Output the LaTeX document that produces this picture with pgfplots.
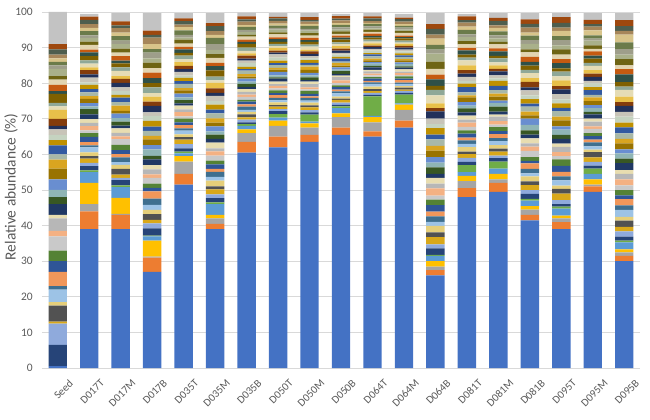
\documentclass[border=0pt]{standalone}
\usepackage{fontspec}
\setmainfont{Carlito}
\usepackage{pgfplots}
\usepackage{pgfplotstable}
\pgfplotsset{compat=1.18}
\definecolor{c1}{HTML}{4472C4}
\definecolor{c2}{HTML}{ED7D31}
\definecolor{c3}{HTML}{A5A5A5}
\definecolor{c4}{HTML}{FFC000}
\definecolor{c5}{HTML}{5B9BD5}
\definecolor{c6}{HTML}{70AD47}
\definecolor{c7}{HTML}{264478}
\definecolor{c8}{HTML}{8FAADC}
\definecolor{c9}{HTML}{D9A81A}
\definecolor{c10}{HTML}{525252}
\definecolor{c11}{HTML}{E6CF7A}
\definecolor{c12}{HTML}{9DC3E6}
\definecolor{c13}{HTML}{3F6F8F}
\definecolor{c14}{HTML}{F1975A}
\definecolor{c15}{HTML}{2F5597}
\definecolor{c16}{HTML}{548235}
\definecolor{c17}{HTML}{C9C9C9}
\definecolor{c18}{HTML}{F4B183}
\definecolor{c19}{HTML}{B7B7B7}
\definecolor{c20}{HTML}{E8DDB0}
\definecolor{c21}{HTML}{203864}
\definecolor{c22}{HTML}{385723}
\definecolor{c23}{HTML}{8FB5B5}
\definecolor{c24}{HTML}{698ED0}
\definecolor{c25}{HTML}{997300}
\definecolor{c26}{HTML}{D9A520}
\definecolor{c27}{HTML}{A8B8A8}
\definecolor{c28}{HTML}{335AA1}
\definecolor{c29}{HTML}{BF9000}
\definecolor{c30}{HTML}{C5D3C0}
\definecolor{c31}{HTML}{C8C4B8}
\definecolor{c32}{HTML}{22315A}
\definecolor{c33}{HTML}{843C0C}
\definecolor{c34}{HTML}{E8C04A}
\definecolor{c35}{HTML}{E5DCB5}
\definecolor{c36}{HTML}{8FA898}
\definecolor{c37}{HTML}{7F6000}
\definecolor{c38}{HTML}{2F5048}
\definecolor{c39}{HTML}{C55A11}
\definecolor{c40}{HTML}{E2D4B0}
\definecolor{c41}{HTML}{6E6414}
\definecolor{c42}{HTML}{A9B08A}
\definecolor{c43}{HTML}{9E9E8A}
\definecolor{c44}{HTML}{6B7B4A}
\definecolor{c45}{HTML}{D8C48A}
\definecolor{c46}{HTML}{A6865A}
\definecolor{c47}{HTML}{4E5E4E}
\definecolor{c48}{HTML}{9E480E}
\definecolor{c49}{HTML}{C3C3C3}
\definecolor{txt}{HTML}{595959}
\definecolor{gridc}{HTML}{D9D9D9}
\pgfplotstableread{
X s1 s2 s3 s4 s5 s6 s7 s8 s9 s10 s11 s12 s13 s14 s15 s16 s17 s18 s19 s20 s21 s22 s23 s24 s25 s26 s27 s28 s29 s30 s31 s32 s33 s34 s35 s36 s37 s38 s39 s40 s41 s42 s43 s44 s45 s46 s47 s48 s49
0 0.5 0 0 0 0 0 6.0 6.0 0.5 4.5 1.0 3.5 1.0 4.0 3.0 3.0 4.0 1.5 3.5 1.0 3.0 2.0 2.0 3.0 3.0 2.5 1.5 2.5 1.5 1.5 1.5 1.0 2.0 2.5 1.0 1.0 2.5 0.8 1.7 1.5 1.0 2.0 1.0 1.0 1.0 1.0 1.5 1.5 9.0
1 39 5 2 6 3 0.5 1.2 0.9 1.2 0.75 1.05 1.35 0.6 0.9 1.5 1.05 0.75 1.2 0.9 1.05 1.35 1.5 0.75 0.9 1.2 0.75 1.05 0.9 1.2 0.75 1.35 0.9 1.2 0.75 1.05 0.9 1.2 1.05 0.75 1.35 0.9 1.05 0.75 1.2 0.9 1.05 1.2 0.9 0.8
2 39 4 0.3 4.5 3 0.5 1.44 0.64 0.96 1.6 1.12 0.8 1.28 0.96 1.12 1.44 1.6 0.8 0.96 1.28 0.8 1.12 0.96 1.28 0.8 1.44 0.96 1.28 0.8 1.12 0.96 1.28 1.12 0.8 1.44 0.96 1.12 0.8 1.28 0.96 1.12 1.28 0.96 1.28 0.96 1.28 0.8 1.12 2.32
3 27 4 0.3 4.5 1.2 0.2 2.0 1.4 1.0 1.6 1.2 1.4 1.8 2.0 1.0 1.2 1.6 1.0 1.4 1.2 1.6 1.0 1.8 1.2 1.6 1.0 1.4 1.2 1.6 1.4 1.0 1.8 1.2 1.4 1.0 1.6 1.2 1.4 1.6 1.2 1.6 1.2 1.6 1.0 1.4 1.8 0.8 1.2 4.9
4 51.5 3 3.5 1.5 0.8 0.5 0.91 1.17 1.3 0.65 0.78 1.04 0.65 0.91 0.78 1.04 0.65 1.17 0.78 1.04 0.65 0.91 0.78 1.04 0.91 0.65 1.17 0.78 0.91 0.65 1.04 0.78 0.91 1.04 0.78 1.04 0.78 1.04 0.65 0.91 1.17 0.52 0.78 1.3 0.91 0.65 1.04 0.78 1.46
5 39 1.5 1.5 1 3 0.5 1.225 1.05 1.4 0.875 1.575 1.05 1.4 0.875 1.225 1.05 1.4 1.225 0.875 1.575 1.05 1.225 0.875 1.4 1.05 1.225 1.4 1.05 1.4 1.05 1.4 0.875 1.225 1.575 0.7 1.05 1.75 1.225 0.875 1.4 1.05 1.225 1.575 1.75 0.875 1.05 1.4 0.875 2.8
6 60.5 3 2.5 1 1 0.5 0.525 0.735 0.63 0.84 0.735 0.525 0.945 0.63 0.735 0.525 0.84 0.63 0.735 0.84 0.63 0.84 0.63 0.84 0.525 0.735 0.945 0.42 0.63 1.05 0.735 0.525 0.84 0.63 0.735 0.945 1.05 0.525 0.63 0.84 0.525 0.735 0.63 0.84 0.525 0.945 0.63 0.84 1.06
7 62 3 3 1.5 0.8 1 0.855 0.57 0.665 0.475 0.76 0.57 0.665 0.76 0.57 0.76 0.57 0.76 0.475 0.665 0.855 0.38 0.57 0.95 0.665 0.475 0.76 0.57 0.665 0.855 0.95 0.475 0.57 0.76 0.475 0.665 0.57 0.76 0.475 0.855 0.57 0.76 0.475 0.665 0.57 0.76 0.665 0.475 1.04
8 63.5 2 2 1.2 0.5 2 0.57 0.665 0.76 0.57 0.76 0.57 0.76 0.475 0.665 0.855 0.38 0.57 0.95 0.665 0.475 0.76 0.57 0.665 0.855 0.95 0.475 0.57 0.76 0.475 0.665 0.57 0.76 0.475 0.855 0.57 0.76 0.475 0.665 0.57 0.76 0.665 0.475 0.855 0.57 0.665 0.475 0.76 1.14
9 65.5 2 3 1 1.5 0.5 0.44 0.616 0.792 0.352 0.528 0.88 0.616 0.44 0.704 0.528 0.616 0.792 0.88 0.44 0.528 0.704 0.44 0.616 0.528 0.704 0.44 0.792 0.528 0.704 0.44 0.616 0.528 0.704 0.616 0.44 0.792 0.528 0.616 0.44 0.704 0.528 0.616 0.704 0.528 0.704 0.528 0.704 0.66
10 65 1.5 2.5 1.5 0.3 5.5 0.39 0.624 0.468 0.546 0.702 0.78 0.39 0.468 0.624 0.39 0.546 0.468 0.624 0.39 0.702 0.468 0.624 0.39 0.546 0.468 0.624 0.546 0.39 0.702 0.468 0.546 0.39 0.624 0.468 0.546 0.624 0.468 0.624 0.468 0.624 0.39 0.546 0.702 0.312 0.468 0.78 0.546 0.94
11 67.5 2 3 1.5 0.3 2.5 0.45 0.6 0.375 0.525 0.45 0.6 0.375 0.675 0.45 0.6 0.375 0.525 0.45 0.6 0.525 0.375 0.675 0.45 0.525 0.375 0.6 0.45 0.525 0.6 0.45 0.6 0.45 0.6 0.375 0.525 0.675 0.3 0.45 0.75 0.525 0.375 0.6 0.45 0.525 0.675 0.75 0.375 1.1
12 26 1.5 1 1.5 1.5 0.3 1.8 1.125 2.025 1.35 1.8 1.125 1.575 1.35 1.8 1.575 1.125 2.025 1.35 1.575 1.125 1.8 1.35 1.575 1.8 1.35 1.8 1.35 1.8 1.125 1.575 2.025 0.9 1.35 2.25 1.575 1.125 1.8 1.35 1.575 2.025 2.25 1.125 1.35 1.8 1.125 1.575 1.35 3.1
13 48 2.5 2 1.5 1 2 0.87 1.16 1.015 0.725 1.305 0.87 1.015 0.725 1.16 0.87 1.015 1.16 0.87 1.16 0.87 1.16 0.725 1.015 1.305 0.58 0.87 1.45 1.015 0.725 1.16 0.87 1.015 1.305 1.45 0.725 0.87 1.16 0.725 1.015 0.87 1.16 0.725 1.305 0.87 1.16 0.725 1.015 0.74
14 49.5 2.5 1 1.5 1.5 2 0.98 0.7 1.12 0.84 0.98 1.12 0.84 1.12 0.84 1.12 0.7 0.98 1.26 0.56 0.84 1.4 0.98 0.7 1.12 0.84 0.98 1.26 1.4 0.7 0.84 1.12 0.7 0.98 0.84 1.12 0.7 1.26 0.84 1.12 0.7 0.98 0.84 1.12 0.98 0.7 1.26 0.84 1.38
15 41.5 1.5 1.5 1 1.5 0.5 1.4 1.05 1.4 1.05 1.4 0.875 1.225 1.575 0.7 1.05 1.75 1.225 0.875 1.4 1.05 1.225 1.575 1.75 0.875 1.05 1.4 0.875 1.225 1.05 1.4 0.875 1.575 1.05 1.4 0.875 1.225 1.05 1.4 1.225 0.875 1.575 1.05 1.225 0.875 1.4 1.05 1.225 1.8
16 39 2 1 0.8 2 0.5 0.74 1.11 1.85 1.295 0.925 1.48 1.11 1.295 1.665 1.85 0.925 1.11 1.48 0.925 1.295 1.11 1.48 0.925 1.665 1.11 1.48 0.925 1.295 1.11 1.48 1.295 0.925 1.665 1.11 1.295 0.925 1.48 1.11 1.295 1.48 1.11 1.48 1.11 1.48 0.925 1.295 1.665 1.12
17 49.5 1.5 0.5 1.5 1.5 1.5 0.87 1.015 1.305 1.45 0.725 0.87 1.16 0.725 1.015 0.87 1.16 0.725 1.305 0.87 1.16 0.725 1.015 0.87 1.16 1.015 0.725 1.305 0.87 1.015 0.725 1.16 0.87 1.015 1.16 0.87 1.16 0.87 1.16 0.725 1.015 1.305 0.58 0.87 1.45 1.015 0.725 1.16 1.94
18 30 1.5 1 0.8 2 0.5 1.075 1.505 1.29 1.72 1.075 1.935 1.29 1.72 1.075 1.505 1.29 1.72 1.505 1.075 1.935 1.29 1.505 1.075 1.72 1.29 1.505 1.72 1.29 1.72 1.29 1.72 1.075 1.505 1.935 0.86 1.29 2.15 1.505 1.075 1.72 1.29 1.505 1.935 2.15 1.075 1.29 1.72 1.98
}\data
\begin{document}
\begin{tikzpicture}
\begin{axis}[
  scale only axis, width=598bp, height=356bp,
  xmin=-0.5, xmax=18.5, ymin=0, ymax=100,
  ybar stacked, bar width=18.4bp,
  xtick={0,...,18},
  xticklabels={Seed,D017T,D017M,D017B,D035T,D035M,D035B,D050T,D050M,D050B,D064T,D064M,D064B,D081T,D081M,D081B,D095T,D095M,D095B},
  ytick={0,10,...,100},
  ymajorgrids, major grid style={draw=gridc, line width=0.75bp},
  axis line style={draw=none}, major tick length=0pt,
  tick label style={font=\fontsize{11.5}{13}\selectfont, text=txt},
  xticklabel style={rotate=45, anchor=north east, inner sep=0pt, yshift=-15bp, xshift=0bp, font=\fontsize{11}{13}\selectfont},
  yticklabel style={anchor=east, inner sep=0pt, xshift=-9bp},
  /pgf/number format/assume math mode=true,
  ylabel={Relative abundance (\%)},
  every axis y label/.style={at={(axis description cs:-0.0518,0.509)}, rotate=90, anchor=center, font=\fontsize{15.5}{17}\selectfont, text=txt},
]
\pgfplotsinvokeforeach{1,...,49}{
  \addplot[fill=c#1, draw=none] table[x=X, y=s#1]{\data};
}
\end{axis}
\path[use as bounding box] (-42bp,-52bp) rectangle (608bp,368bp);
\end{tikzpicture}
\end{document}
